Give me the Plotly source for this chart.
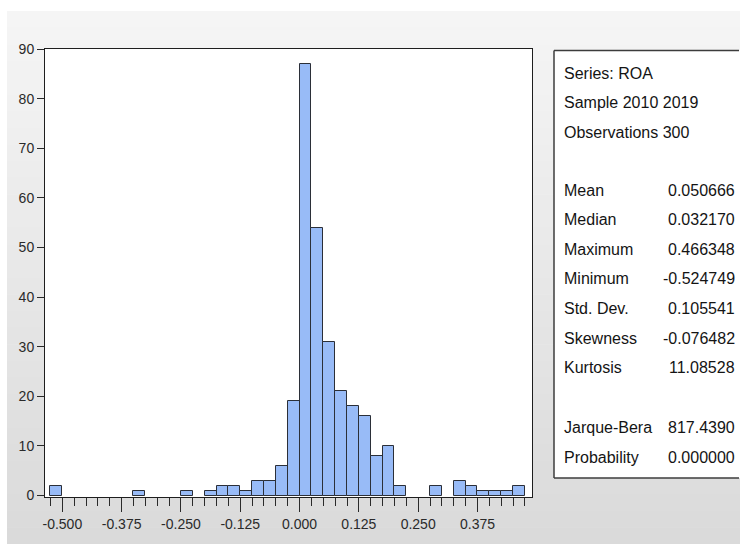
import plotly.graph_objects as go

# Histogram of ROA, bin width 0.025 (left edges and counts)
bin_left = [
    -0.525, -0.500, -0.475, -0.450, -0.425, -0.400, -0.375, -0.350, -0.325, -0.300,
    -0.275, -0.250, -0.225, -0.200, -0.175, -0.150, -0.125, -0.100, -0.075, -0.050,
    -0.025, 0.000, 0.025, 0.050, 0.075, 0.100, 0.125, 0.150, 0.175, 0.200,
    0.225, 0.250, 0.275, 0.300, 0.325, 0.350, 0.375, 0.400, 0.425, 0.450,
]
counts = [
    2, 0, 0, 0, 0, 0, 0, 1, 0, 0,
    0, 1, 0, 1, 2, 2, 1, 3, 3, 6,
    19, 87, 54, 31, 21, 18, 16, 8, 10, 2,
    0, 0, 2, 0, 3, 2, 1, 1, 1, 2,
]
bin_width = 0.025

x_tick_vals = [-0.500, -0.375, -0.250, -0.125, 0.000, 0.125, 0.250, 0.375]
x_tick_labels = ["-0.500", "-0.375", "-0.250", "-0.125", "0.000", "0.125", "0.250", "0.375"]
y_tick_vals = [0, 10, 20, 30, 40, 50, 60, 70, 80, 90]

# Descriptive statistics panel
header_lines = ["Series: ROA", "Sample 2010 2019", "Observations 300"]
stat_names = ["Mean", "Median", "Maximum", "Minimum", "Std. Dev.", "Skewness", "Kurtosis"]
stat_values = ["0.050666", "0.032170", "0.466348", "-0.524749", "0.105541", "-0.076482", "11.08528"]
test_names = ["Jarque-Bera", "Probability"]
test_values = ["817.4390", "0.000000"]

W, H = 740, 544
ML, MR, MT, MB = 45, 208, 49, 47
PW, PH = W - ML - MR, H - MT - MB

def px(x):
    return (x - ML) / PW

def py(y):
    return (H - MB - y) / PH

FONT = "Liberation Sans, Arial, sans-serif"
NO_LINE = dict(width=0, color="rgba(0,0,0,0)")

pairs = [(b, c) for b, c in zip(bin_left, counts) if c > 0]
fig = go.Figure(go.Bar(
    x=[b + bin_width / 2 for b, _ in pairs],
    y=[c for _, c in pairs],
    width=bin_width,
    marker=dict(color="#98bbf7", line=dict(color="#2b2f38", width=1)),
    hoverinfo="x+y",
))

shapes = []
# soft grey backdrop fading downwards
top, bottom = 11, H
n = 32
for i in range(n):
    y0 = top + (bottom - top) * i / n
    y1 = top + (bottom - top) * (i + 1) / n
    g = round(245 - (245 - 218) * i / (n - 1))
    shapes.append(dict(type="rect", xref="paper", yref="paper", layer="below",
                       x0=px(7), x1=px(W), y0=py(y1 + 0.5), y1=py(y0),
                       fillcolor=f"rgb({g},{g},{g})", line=NO_LINE))
# white plotting area
shapes.append(dict(type="rect", xref="paper", yref="paper", layer="below",
                   x0=0, x1=1, y0=0, y1=1, fillcolor="white", line=NO_LINE))
# statistics box: white panel open on the right
bx0, bx1, by0, by1 = 554, W - 1, 50.5, 478
shapes.append(dict(type="rect", xref="paper", yref="paper", layer="below",
                   x0=px(bx0), x1=px(W), y0=py(by1), y1=py(by0),
                   fillcolor="white", line=NO_LINE))
for (xa, ya, xb, yb) in [(bx0, by0, bx1, by0), (bx0, by1, bx1, by1), (bx0, by0, bx0, by1)]:
    shapes.append(dict(type="line", xref="paper", yref="paper", layer="below",
                       x0=px(xa), y0=py(ya), x1=px(xb), y1=py(yb),
                       line=dict(color="#3c3c3c", width=1.5)))

annotations = []
def label(text, x, y, anchor):
    annotations.append(dict(text=text, x=px(x), y=py(y), xref="paper", yref="paper",
                            xanchor=anchor, yanchor="middle", showarrow=False,
                            font=dict(family=FONT, size=16, color="#141414")))

row = 29.6
for i, t in enumerate(header_lines):
    label(t, 562, 73 + i * row, "left")
for i, (n_, v) in enumerate(zip(stat_names, stat_values)):
    y = 190 + i * row
    label(n_, 562, y, "left")
    label(v, 737, y, "right")
for i, (n_, v) in enumerate(zip(test_names, test_values)):
    y = 427.5 + i * row
    label(n_, 562, y, "left")
    label(v, 737, y, "right")

x_lo = -0.5365
x_hi = 0.4899
fig.update_layout(
    width=W, height=H,
    margin=dict(l=ML, r=MR, t=MT, b=MB, pad=0),
    paper_bgcolor="white",
    plot_bgcolor="white",
    showlegend=False,
    bargap=0,
    shapes=shapes,
    annotations=annotations,
    font=dict(family=FONT, color="#2a2a2a"),
    xaxis=dict(
        range=[x_lo, x_hi], showgrid=False, zeroline=False,
        showline=True, linecolor="#1e1e1e", linewidth=1, mirror=True,
        tickvals=x_tick_vals, ticktext=x_tick_labels,
        ticks="outside", ticklen=14, tickcolor="#2a2a2a", tickwidth=1,
        tickfont=dict(family=FONT, size=14, color="#2a2a2a"),
        minor=dict(tick0=-0.525, dtick=bin_width, ticks="outside", ticklen=8,
                   tickcolor="#2a2a2a", tickwidth=1, showgrid=False),
    ),
    yaxis=dict(
        range=[-0.3, 90], showgrid=False, zeroline=False,
        showline=True, linecolor="#1e1e1e", linewidth=1, mirror=True,
        tickvals=y_tick_vals,
        ticks="outside", ticklen=7, tickcolor="#2a2a2a", tickwidth=1,
        tickfont=dict(family=FONT, size=14, color="#2a2a2a"),
    ),
)

fig.write_html("out.html")
